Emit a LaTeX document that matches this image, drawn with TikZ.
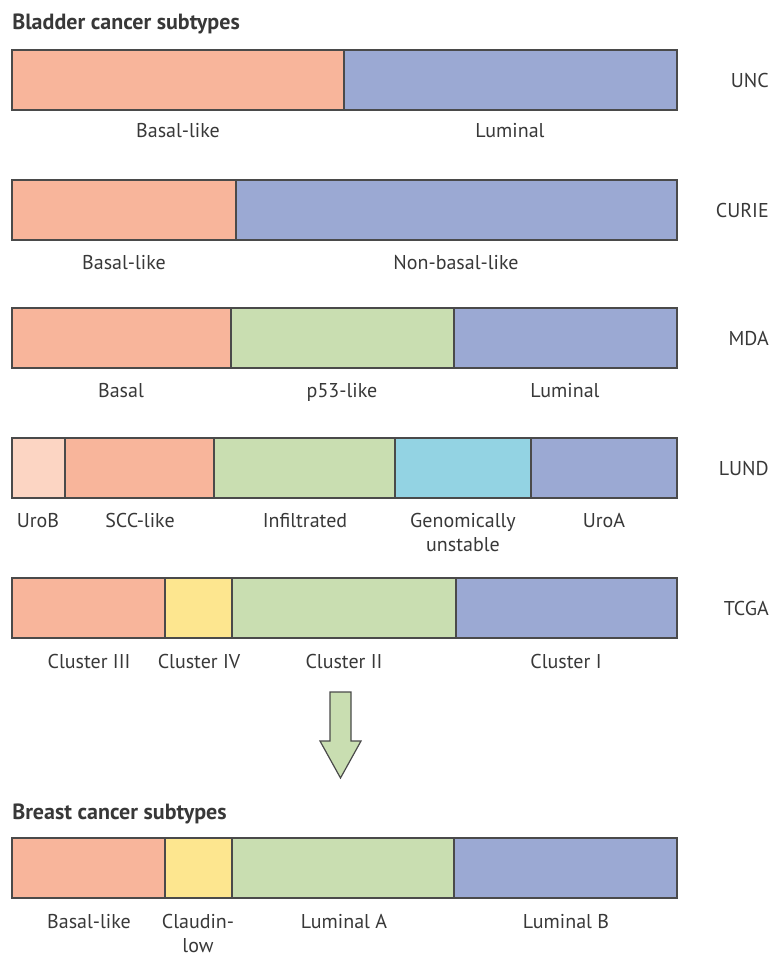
\documentclass[tikz,border=0pt]{standalone}
\usepackage{fontspec}
\setmainfont{PT Sans}
\definecolor{basal}{HTML}{F8B59B}
\definecolor{luminal}{HTML}{9BA9D3}
\definecolor{infil}{HTML}{C9DEB1}
\definecolor{urob}{HTML}{FCD5C3}
\definecolor{genom}{HTML}{93D3E3}
\definecolor{claud}{HTML}{FDE68F}
\definecolor{borde}{HTML}{4A4A4A}
\definecolor{tinta}{HTML}{383838}

\begin{document}
\begin{tikzpicture}[x=0.75pt,y=-0.75pt,
   seg/.style={draw=borde,line width=0.9pt},
   lab/.style={anchor=base,align=center,inner sep=0pt,text=tinta,font=\fontsize{15}{18}\selectfont},
   study/.style={anchor=base east,inner sep=0pt,text=tinta,font=\fontsize{15}{18}\selectfont},
   heading/.style={anchor=base west,inner sep=0pt,text=tinta,font=\bfseries\fontsize{16.5}{18}\selectfont}]
  \useasboundingbox (0,0) rectangle (772,957);
  \node[heading] (bladder) at (12,29) {Bladder cancer subtypes};
  % --- UNC ---
  \draw[seg,fill=basal]   (12,50) rectangle (344,110);
  \draw[seg,fill=luminal] (344,50) rectangle (677,110);
  \node[lab] (unc-b) at (178,137) {Basal-like};
  \node[lab] (unc-l) at (510,137) {Luminal};
  \node[study] (unc) at (769,87) {UNC};
  % --- CURIE ---
  \draw[seg,fill=basal]   (12,180) rectangle (236,240);
  \draw[seg,fill=luminal] (236,180) rectangle (677,240);
  \node[lab] (cur-b) at (124,269) {Basal-like};
  \node[lab] (cur-n) at (456,269) {Non-basal-like};
  \node[study] (curie) at (769,217) {CURIE};
  % --- MDA ---
  \draw[seg,fill=basal]   (12,308) rectangle (231,368);
  \draw[seg,fill=infil]   (231,308) rectangle (454,368);
  \draw[seg,fill=luminal] (454,308) rectangle (677,368);
  \node[lab] (mda-b) at (121,397) {Basal};
  \node[lab] (mda-p) at (342,397) {p53-like};
  \node[lab] (mda-l) at (565,397) {Luminal};
  \node[study] (mda) at (769,345) {MDA};
  % --- LUND ---
  \draw[seg,fill=urob]    (12,438) rectangle (65,498);
  \draw[seg,fill=basal]   (65,438) rectangle (214,498);
  \draw[seg,fill=infil]   (214,438) rectangle (395,498);
  \draw[seg,fill=genom]   (395,438) rectangle (531,498);
  \draw[seg,fill=luminal] (531,438) rectangle (677,498);
  \node[lab] (lund-ub) at (38,527) {UroB};
  \node[lab] (lund-s)  at (140,527) {SCC-like};
  \node[lab] (lund-i)  at (305,527) {Infiltrated};
  \node[lab] (lund-g)  at (463,551) {Genomically\\unstable};
  \node[lab] (lund-ua) at (604,527) {UroA};
  \node[study] (lund) at (769,475) {LUND};
  % --- TCGA ---
  \draw[seg,fill=basal]   (12,578) rectangle (165,638);
  \draw[seg,fill=claud]   (165,578) rectangle (232,638);
  \draw[seg,fill=infil]   (232,578) rectangle (456,638);
  \draw[seg,fill=luminal] (456,578) rectangle (677,638);
  \node[lab] (tcga-3) at (89,668) {Cluster III};
  \node[lab] (tcga-4) at (199,668) {Cluster IV};
  \node[lab] (tcga-2) at (344,668) {Cluster II};
  \node[lab] (tcga-1) at (566,668) {Cluster I};
  \node[study] (tcga) at (769,615) {TCGA};
  % flecha
  \draw[seg,fill=infil] (330,692) -- (351,692) -- (351,741) -- (361,741)
    -- (340.5,778) -- (320,741) -- (330,741) -- cycle;
  % --- Breast ---
  \node[heading] (breast) at (12,819) {Breast cancer subtypes};
  \draw[seg,fill=basal]   (12,838) rectangle (165,898);
  \draw[seg,fill=claud]   (165,838) rectangle (232,898);
  \draw[seg,fill=infil]   (232,838) rectangle (454,898);
  \draw[seg,fill=luminal] (454,838) rectangle (677,898);
  \node[lab] (br-b)  at (89,928) {Basal-like};
  \node[lab] (br-c)  at (198,952) {Claudin-\\low};
  \node[lab] (br-la) at (344,928) {Luminal A};
  \node[lab] (br-lb) at (566,928) {Luminal B};
\end{tikzpicture}
\end{document}
